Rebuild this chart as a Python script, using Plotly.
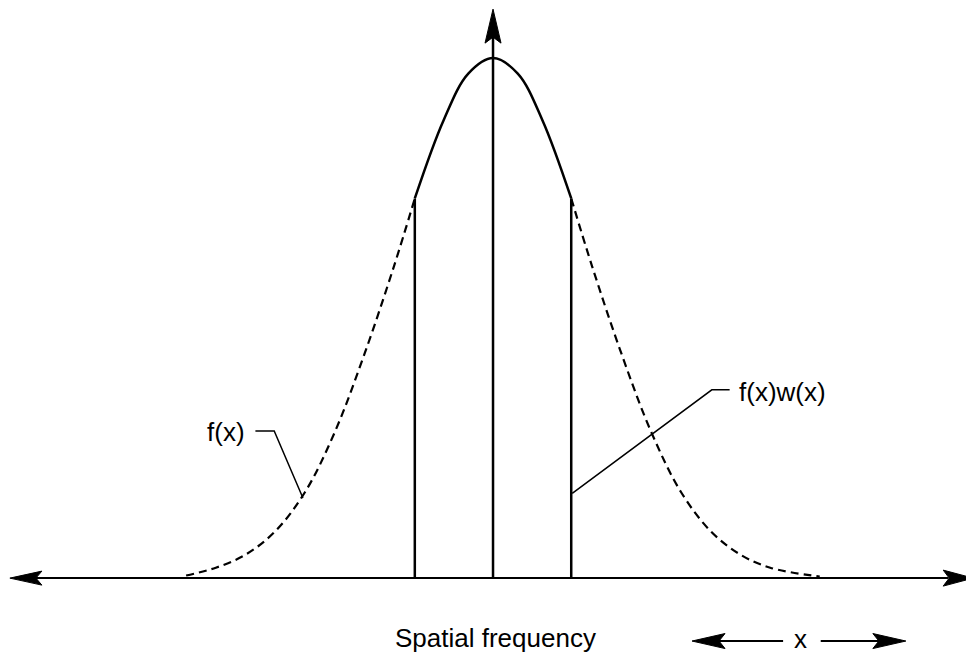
import numpy as np
import plotly.graph_objects as go

# curve: spatial frequency (units of sigma) vs f(x), peak = 1
freq = [-3.1, -2.8, -2.5, -2.2, -1.9, -1.6, -1.3, -1.0, -0.79, -0.5, -0.25, 0.0,
        0.25, 0.5, 0.79, 1.0, 1.3, 1.6, 1.9, 2.2, 2.5, 2.8, 3.3]
f_vals = [0.005, 0.02, 0.045, 0.09, 0.165, 0.28, 0.43, 0.6, 0.73, 0.88, 0.97, 1.0,
          0.97, 0.88, 0.73, 0.6, 0.43, 0.28, 0.165, 0.09, 0.045, 0.02, 0.003]
window_edges = [-0.79, 0.79]
window_height = [0.73, 0.73]

label_fx = "f(x)"
label_fxwx = "f(x)w(x)"
label_axis = "Spatial frequency"
label_x = "x"

freq = np.array(freq)
f_vals = np.array(f_vals)
inside = (freq >= window_edges[0]) & (freq <= window_edges[1])
left = freq <= window_edges[0]
right = freq >= window_edges[1]

INK = "black"
FONT = dict(family="Liberation Sans, Arial, sans-serif", size=26, color=INK)

fig = go.Figure()

# dashed tails (f(x) outside the window)
for m in (left, right):
    fig.add_trace(go.Scatter(x=freq[m], y=f_vals[m], mode="lines",
                             line=dict(color=INK, width=2.2, dash="8px,5px",
                                       shape="spline", smoothing=1),
                             hoverinfo="skip"))

# solid part inside the window, f(x)w(x)
fig.add_trace(go.Scatter(x=freq[inside], y=f_vals[inside], mode="lines",
                         line=dict(color=INK, width=2.5, shape="spline", smoothing=1),
                         hoverinfo="skip"))

# window edges
for xe, he in zip(window_edges, window_height):
    fig.add_trace(go.Scatter(x=[xe, xe], y=[0, he], mode="lines",
                             line=dict(color=INK, width=2.5), hoverinfo="skip"))

shapes = []
# horizontal axis and vertical axis
shapes.append(dict(type="line", xref="x", yref="y", x0=-4.82, x1=4.6, y0=0, y1=0,
                   line=dict(color=INK, width=2)))
shapes.append(dict(type="line", xref="x", yref="y", x0=0, x1=0, y0=0, y1=1.05,
                   line=dict(color=INK, width=2.5)))


def head(xa, ya, path):
    return dict(type="path", xref="x", yref="y", xsizemode="pixel", ysizemode="pixel",
                xanchor=xa, yanchor=ya, path=path,
                fillcolor=INK, line=dict(color=INK, width=1))


RIGHT = "M0,0 L-30,8 L-24,0 L-30,-8 Z"
LEFT = "M0,0 L32,7 L26,0 L32,-7 Z"
UP = "M0,0 L-8,-34 L0,-28 L8,-34 Z"
shapes.append(head(-4.88, 0, LEFT))
shapes.append(head(4.85, 0, RIGHT))
shapes.append(head(0, 1.094, UP))

# leader lines
fx_leader = dict(x=[-2.40, -2.21, -1.92], y=[0.283, 0.283, 0.154])
fxwx_leader = dict(x=[0.80, 2.21, 2.39], y=[0.163, 0.362, 0.362])
for ld in (fx_leader, fxwx_leader):
    fig.add_trace(go.Scatter(x=ld["x"], y=ld["y"], mode="lines",
                             line=dict(color=INK, width=1.5), hoverinfo="skip"))

# "<-- x -->" scale marker under the axis
ys = -0.121
shapes.append(dict(type="line", xref="x", yref="y", x0=2.1, x1=2.93, y0=ys, y1=ys,
                   line=dict(color=INK, width=2)))
shapes.append(dict(type="line", xref="x", yref="y", x0=3.31, x1=4.1, y0=ys, y1=ys,
                   line=dict(color=INK, width=2)))
shapes.append(head(2.01, ys, "M0,0 L33,7.5 L27,0 L33,-7.5 Z"))
shapes.append(head(4.17, ys, "M0,0 L-33,7.5 L-27,0 L-33,-7.5 Z"))

annotations = [
    dict(x=-2.485, y=0.281, text=label_fx, showarrow=False, xanchor="right",
         yanchor="middle", font=FONT),
    dict(x=2.46, y=0.358, text=label_fxwx, showarrow=False, xanchor="left",
         yanchor="middle", font=FONT),
    dict(x=0.025, y=-0.115, text=label_axis, showarrow=False, xanchor="center",
         yanchor="middle", font=FONT),
    dict(x=3.11, y=-0.118, text=label_x, showarrow=False, xanchor="center",
         yanchor="middle", font=FONT),
]

# the page body adds an 8px offset, so the ranges are shifted to compensate
fig.update_layout(
    width=974, height=658,
    margin=dict(l=0, r=0, t=0, b=0),
    paper_bgcolor="white", plot_bgcolor="white",
    showlegend=False,
    xaxis=dict(range=[-4.899, 4.939], visible=False, fixedrange=True),
    yaxis=dict(range=[-0.169, 1.0962], visible=False, fixedrange=True),
    shapes=shapes,
    annotations=annotations,
)

fig.write_html("out.html")
